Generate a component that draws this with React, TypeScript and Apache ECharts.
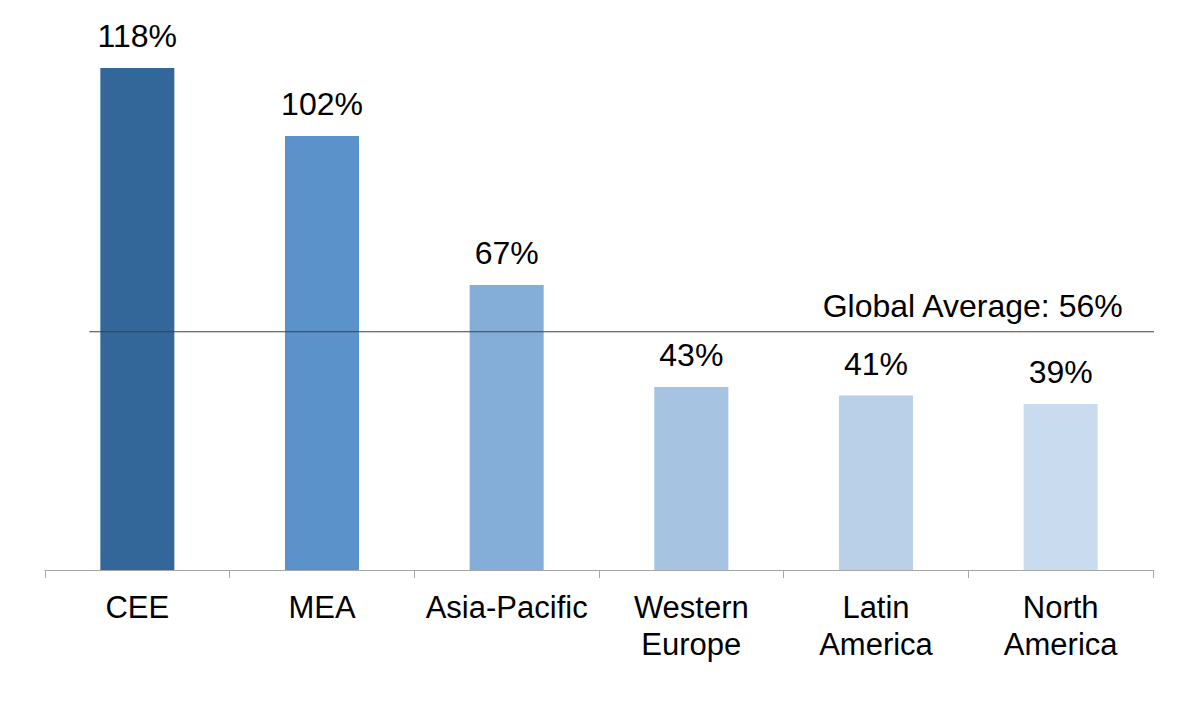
import React, { useEffect, useRef } from "react";
import * as echarts from "echarts";

const categories = ["CEE", "MEA", "Asia-Pacific", "Western\nEurope", "Latin\nAmerica", "North\nAmerica"];
const values = [118, 102, 67, 43, 41, 39];
const barColors = ["#336699", "#5b92c9", "#84aed7", "#a6c3e2", "#b9d0e8", "#c9dcef"];
const globalAverage = 56;
const averageLabel = "Global Average: 56%";
const averageLineSpan = [-0.26, 5.52];

const FONT = "'Liberation Sans', Arial, sans-serif";

export default function App() {
  const ref = useRef<HTMLDivElement>(null);
  useEffect(() => {
    if (!ref.current) return;
    const chart = echarts.init(ref.current, undefined, { renderer: "svg" });
    chart.setOption({
      animation: false,
      backgroundColor: "#ffffff",
      textStyle: { fontFamily: FONT },
      grid: { left: 45, right: 26, top: 68, bottom: 139 },
      xAxis: [
        {
          type: "category",
          data: categories,
          axisLine: { lineStyle: { color: "#a6a6a6", width: 1 } },
          axisTick: { show: true, length: 8, lineStyle: { color: "#a6a6a6" } },
          axisLabel: {
            color: "#000",
            fontSize: 31,
            fontFamily: FONT,
            margin: 19,
            lineHeight: 37,
            interval: 0,
          },
        },
        { type: "value", min: -0.5, max: 5.5, show: false },
      ],
      yAxis: { type: "value", min: 0, max: 118, show: false, splitLine: { show: false } },
      series: [
        {
          type: "bar",
          xAxisIndex: 0,
          barWidth: 74,
          data: values.map((v, i) => ({ value: v, itemStyle: { color: barColors[i] } })),
          label: {
            show: true,
            position: "top",
            distance: 16,
            formatter: "{c}%",
            color: "#000",
            fontSize: 32,
            fontFamily: FONT,
          },
        },
        {
          type: "line",
          xAxisIndex: 1,
          clip: false,
          symbol: "circle",
          symbolSize: 1,
          showSymbol: true,
          itemStyle: { color: "rgba(0,0,0,0)" },
          lineStyle: { color: "#404040", width: 1 },
          z: 5,
          data: [
            { value: [averageLineSpan[0], globalAverage], label: { show: false } },
            {
              value: [averageLineSpan[1], globalAverage],
              label: {
                show: true,
                position: "top",
                align: "right",
                distance: 9,
                offset: [-34, 0],
                formatter: averageLabel,
                color: "#000",
                fontSize: 32,
                fontFamily: FONT,
              },
            },
          ],
        },
      ],
    });
    return () => chart.dispose();
  }, []);
  return <div ref={ref} style={{ position: "absolute", left: 0, top: 0, width: 1179, height: 709 }} />;
}
